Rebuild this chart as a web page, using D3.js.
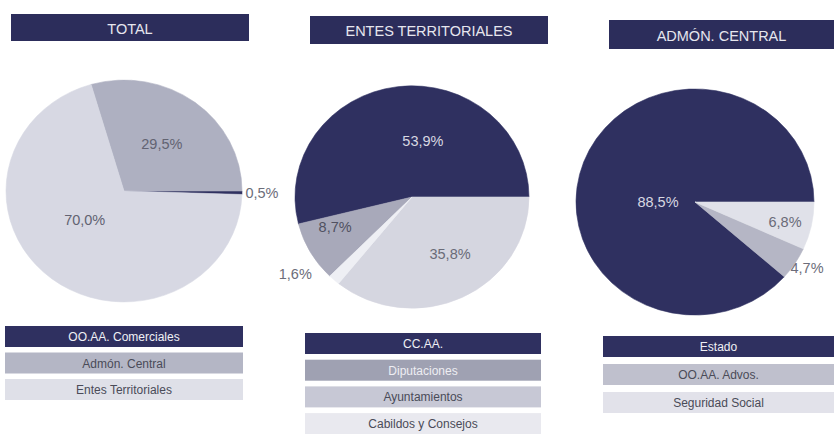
<!DOCTYPE html>
<html>
<head>
<meta charset="utf-8">
<script src="https://cdn.jsdelivr.net/npm/d3@7"></script>
<style>
  html, body { margin: 0; padding: 0; background: #ffffff; }
  svg { display: block; font-family: "Liberation Sans", Arial, Helvetica, sans-serif; }
</style>
</head>
<body>
<script>
// ---------------- DATA ----------------
const titles = ["TOTAL", "ENTES TERRITORIALES", "ADMÓN. CENTRAL"];

const totalLabels = ["OO.AA. Comerciales", "Admón. Central", "Entes Territoriales"];
const totalValues = [0.5, 29.5, 70.0];

const entesLabels = ["CC.AA.", "Diputaciones", "Ayuntamientos", "Cabildos y Consejos"];
const entesValues = [53.9, 8.7, 35.8, 1.6];

const centralLabels = ["Estado", "OO.AA. Advos.", "Seguridad Social"];
const centralValues = [88.5, 4.7, 6.8];

// ---------------- STYLE / LAYOUT ----------------
const W = 834, H = 434;
const navy = "#2f3060";

const panels = [
  {
    title: titles[0], labels: totalLabels, values: totalValues,
    header: {x: 11, y: 14, w: 238, h: 27},
    pie: {cx: 124, cy: 191, rx: 118, sy: 0.94},
    order: [0, 2, 1],
    fills: [navy, "#aeb0c1", "#d7d8e3"],
    labR: [138, 63, 50], labNudge: [0, 0, 14],
    labCol: ["#6c6d7a", "#626372", "#626372"],
    legend: {x: 5, w: 238, y0: 326, step: 26.5, h: 21},
    legFill: [navy, "#b4b6c5", "#dfe0e8"],
    legText: ["#f0f0f5", "#4a4b58", "#4a4b58"]
  },
  {
    title: titles[1], labels: entesLabels, values: entesValues,
    header: {x: 310, y: 16, w: 238, h: 28},
    pie: {cx: 412, cy: 197, rx: 117, sy: 0.95},
    order: [2, 3, 1, 0],
    fills: [navy, "#a8a9ba", "#d5d6e0", "#eeeff4"],
    labR: [59.5, 83, 70.7, 142], labNudge: [17.6, 7.6, -7, 13.5],
    labCol: ["#d8d8e2", "#505161", "#6a6b78", "#6c6d7a"],
    legend: {x: 305, w: 236, y0: 333, step: 26.7, h: 21},
    legFill: [navy, "#9fa1b2", "#c7c8d5", "#e9e9ef"],
    legText: ["#f0f0f5", "#eeeef3", "#4a4b58", "#4a4b58"]
  },
  {
    title: titles[2], labels: centralLabels, values: centralValues,
    header: {x: 609, y: 20, w: 225, h: 29},
    pie: {cx: 695, cy: 202, rx: 119, sy: 0.95},
    order: [2, 1, 0],
    fills: [navy, "#b5b6c5", "#e0e1e9"],
    labR: [37, 132, 92.5], labNudge: [-20.7, -1, 1],
    labCol: ["#d8d8e2", "#6c6d7a", "#6a6b78"],
    legend: {x: 603, w: 231, y0: 336, step: 28, h: 21},
    legFill: [navy, "#bfc0cd", "#e2e2ea"],
    legText: ["#f0f0f5", "#4a4b58", "#4a4b58"]
  }
];

const fmt = v => d3.format(".1f")(v).replace(".", ",") + "%";

const svg = d3.select("body").append("svg")
  .attr("width", W).attr("height", H)
  .attr("viewBox", `0 0 ${W} ${H}`);

svg.append("rect").attr("width", W).attr("height", H).attr("fill", "#ffffff");

panels.forEach(p => {
  // Header
  svg.append("rect")
    .attr("x", p.header.x).attr("y", p.header.y)
    .attr("width", p.header.w).attr("height", p.header.h)
    .attr("fill", "#2c2d5b");
  svg.append("text")
    .attr("x", p.header.x + p.header.w / 2)
    .attr("y", p.header.y + p.header.h / 2 + 1)
    .attr("text-anchor", "middle")
    .attr("dominant-baseline", "central")
    .attr("fill", "#e6e6ee")
    .attr("font-size", 14.5)
    .text(p.title);

  // Pie
  const items = p.values.map((v, i) => ({i, v}));
  const pie = d3.pie()
    .value(d => d.v)
    .sort((a, b) => p.order.indexOf(a.i) - p.order.indexOf(b.i))
    .startAngle(Math.PI / 2)
    .endAngle(Math.PI / 2 + 2 * Math.PI);
  const arcs = pie(items);
  const arc = d3.arc().innerRadius(0).outerRadius(p.pie.rx);

  const g = svg.append("g")
    .attr("transform", `translate(${p.pie.cx},${p.pie.cy}) scale(1,${p.pie.sy})`);
  g.selectAll("path").data(arcs).enter().append("path")
    .attr("d", arc)
    .attr("fill", d => p.fills[d.data.i])
    .attr("stroke", d => p.fills[d.data.i])
    .attr("stroke-width", 0.6);

  // Pie labels
  svg.selectAll(null).data(arcs).enter().append("text")
    .attr("x", d => {
      const a = (d.startAngle + d.endAngle) / 2 + p.labNudge[d.data.i] * Math.PI / 180;
      return p.pie.cx + p.labR[d.data.i] * Math.sin(a);
    })
    .attr("y", d => {
      const a = (d.startAngle + d.endAngle) / 2 + p.labNudge[d.data.i] * Math.PI / 180;
      return p.pie.cy - p.labR[d.data.i] * Math.cos(a) * p.pie.sy;
    })
    .attr("text-anchor", "middle")
    .attr("dominant-baseline", "central")
    .attr("font-size", 14.5)
    .attr("fill", d => p.labCol[d.data.i])
    .text(d => fmt(d.data.v));

  // Legend
  const lg = svg.append("g");
  p.labels.forEach((lab, i) => {
    const y = p.legend.y0 + i * p.legend.step;
    lg.append("rect")
      .attr("x", p.legend.x).attr("y", y)
      .attr("width", p.legend.w).attr("height", p.legend.h)
      .attr("fill", p.legFill[i]);
    lg.append("text")
      .attr("x", p.legend.x + p.legend.w / 2)
      .attr("y", y + p.legend.h / 2 + 0.5)
      .attr("text-anchor", "middle")
      .attr("dominant-baseline", "central")
      .attr("font-size", 12)
      .attr("fill", p.legText[i])
      .text(lab);
  });
});
</script>
</body>
</html>
